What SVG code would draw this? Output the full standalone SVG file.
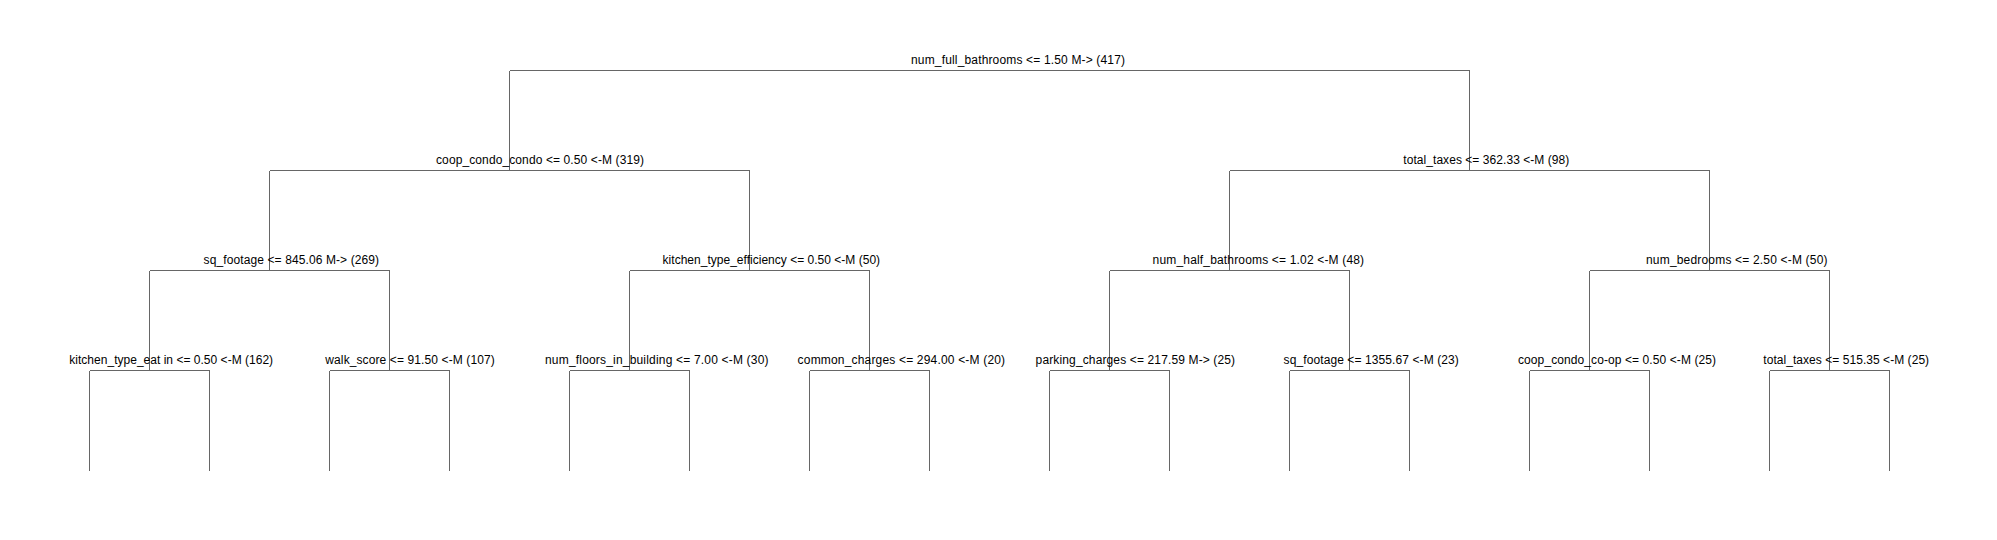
<svg xmlns="http://www.w3.org/2000/svg" width="1997" height="540" viewBox="0 0 1997 540">
<style>
.bg{fill:#ffffff}
.edge{fill:none;stroke:#666666;stroke-width:1;shape-rendering:crispEdges}
.lbl{font-family:"Liberation Sans",Arial,sans-serif;font-size:12px;fill:#000000}
</style>
<rect class="bg" x="0" y="0" width="1997" height="540"/>
<g id="connectors">
<path class="edge" d="M509.5,70.5H1469.5M509.5,70.5V170.5M1469.5,70.5V170.5"/>
<path class="edge" d="M269.5,170.5H749.5M1229.5,170.5H1709.5M269.5,170.5V270.5M749.5,170.5V270.5M1229.5,170.5V270.5M1709.5,170.5V270.5"/>
<path class="edge" d="M149.5,270.5H389.5M629.5,270.5H869.5M1109.5,270.5H1349.5M1589.5,270.5H1829.5M149.5,270.5V370.5M389.5,270.5V370.5M629.5,270.5V370.5M869.5,270.5V370.5M1109.5,270.5V370.5M1349.5,270.5V370.5M1589.5,270.5V370.5M1829.5,270.5V370.5"/>
<path class="edge" d="M89.5,370.5H209.5M329.5,370.5H449.5M569.5,370.5H689.5M809.5,370.5H929.5M1049.5,370.5H1169.5M1289.5,370.5H1409.5M1529.5,370.5H1649.5M1769.5,370.5H1889.5M89.5,370.5V471M209.5,370.5V471M329.5,370.5V471M449.5,370.5V471M569.5,370.5V471M689.5,370.5V471M809.5,370.5V471M929.5,370.5V471M1049.5,370.5V471M1169.5,370.5V471M1289.5,370.5V471M1409.5,370.5V471M1529.5,370.5V471M1649.5,370.5V471M1769.5,370.5V471M1889.5,370.5V471"/>
</g>
<g id="node-root"><text class="lbl" x="911" y="64" textLength="214">num_full_bathrooms &lt;= 1.50 M-&gt; (417)</text></g>
<g id="node-coop-condo-condo"><text class="lbl" x="436" y="164" textLength="208">coop_condo_condo &lt;= 0.50 &lt;-M (319)</text></g>
<g id="node-total-taxes-362"><text class="lbl" x="1403.3" y="164" textLength="166">total_taxes &lt;= 362.33 &lt;-M (98)</text></g>
<g id="node-sq-footage-845"><text class="lbl" x="203.6" y="264" textLength="175.5">sq_footage &lt;= 845.06 M-&gt; (269)</text></g>
<g id="node-kitchen-type-efficiency"><text class="lbl" x="662.6" y="264" textLength="217.5">kitchen_type_efficiency &lt;= 0.50 &lt;-M (50)</text></g>
<g id="node-num-half-bathrooms"><text class="lbl" x="1152.6" y="264" textLength="211.5">num_half_bathrooms &lt;= 1.02 &lt;-M (48)</text></g>
<g id="node-num-bedrooms"><text class="lbl" x="1646" y="264" textLength="181.5">num_bedrooms &lt;= 2.50 &lt;-M (50)</text></g>
<g id="node-kitchen-type-eat-in"><text class="lbl" x="69.3" y="364" textLength="203.8">kitchen_type_eat in &lt;= 0.50 &lt;-M (162)</text></g>
<g id="node-walk-score"><text class="lbl" x="325.3" y="364" textLength="169.5">walk_score &lt;= 91.50 &lt;-M (107)</text></g>
<g id="node-num-floors-in-building"><text class="lbl" x="545" y="364" textLength="223.5">num_floors_in_building &lt;= 7.00 &lt;-M (30)</text></g>
<g id="node-common-charges"><text class="lbl" x="797.6" y="364" textLength="207.5">common_charges &lt;= 294.00 &lt;-M (20)</text></g>
<g id="node-parking-charges"><text class="lbl" x="1035.6" y="364" textLength="199.5">parking_charges &lt;= 217.59 M-&gt; (25)</text></g>
<g id="node-sq-footage-1355"><text class="lbl" x="1283.6" y="364" textLength="175.2">sq_footage &lt;= 1355.67 &lt;-M (23)</text></g>
<g id="node-coop-condo-co-op"><text class="lbl" x="1518" y="364" textLength="198">coop_condo_co-op &lt;= 0.50 &lt;-M (25)</text></g>
<g id="node-total-taxes-515"><text class="lbl" x="1763.3" y="364" textLength="165.8">total_taxes &lt;= 515.35 &lt;-M (25)</text></g>
</svg>
